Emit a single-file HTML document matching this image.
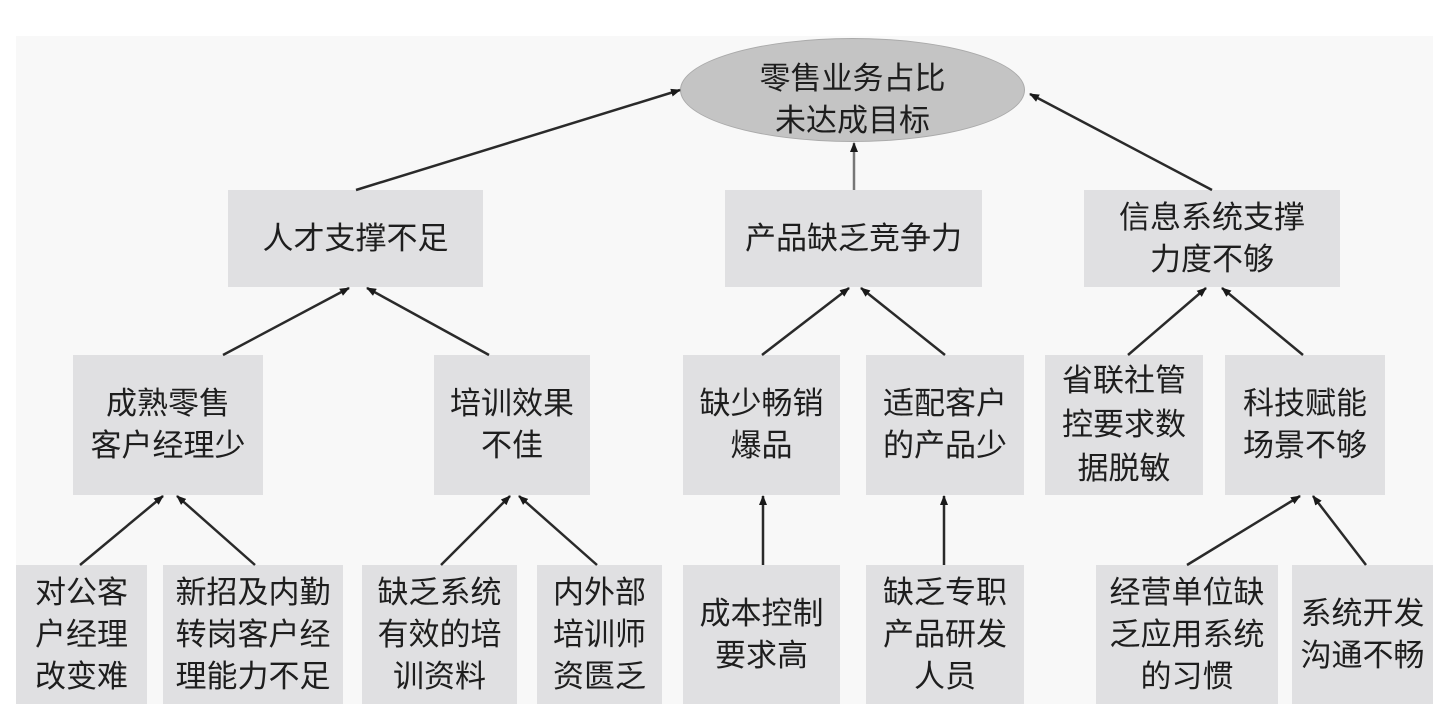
<!DOCTYPE html>
<html><head><meta charset="utf-8"><style>
html,body{margin:0;padding:0;background:#fff;}
body{width:1445px;height:726px;position:relative;overflow:hidden;font-family:"Liberation Sans","Noto Sans CJK SC",sans-serif;color:#1e1e1e;}
.panel{position:absolute;left:16px;top:36px;width:1417px;height:668px;background:#f8f8f8;}
.b{position:absolute;background:#e0e0e2;display:flex;align-items:center;justify-content:center;text-align:center;font-size:31px;line-height:42px;white-space:nowrap;}
.e{position:absolute;left:680px;top:38px;width:343px;height:102px;border-radius:50%;background:#c4c4c4;border:1px solid #aaa;display:flex;align-items:center;justify-content:center;text-align:center;font-size:31px;line-height:42px;}
.e span{position:relative;top:10px;}
svg{position:absolute;left:0;top:0;}
</style></head><body>
<div class="panel"></div>
<div class="e"><span>零售业务占比<br>未达成目标</span></div>
<div class="b" style="left:228px;top:190px;width:255px;height:97px;">人才支撑不足</div>
<div class="b" style="left:725px;top:190px;width:257px;height:97px;">产品缺乏竞争力</div>
<div class="b" style="left:1084px;top:190px;width:256px;height:97px;">信息系统支撑<br>力度不够</div>

<div class="b" style="left:73px;top:355px;width:190px;height:140px;">成熟零售<br>客户经理少</div>
<div class="b" style="left:434px;top:355px;width:156px;height:140px;">培训效果<br>不佳</div>
<div class="b" style="left:683px;top:355px;width:157px;height:140px;">缺少畅销<br>爆品</div>
<div class="b" style="left:866px;top:355px;width:158px;height:140px;">适配客户<br>的产品少</div>
<div class="b" style="left:1045px;top:355px;width:158px;height:140px;line-height:44px;">省联社管<br>控要求数<br>据脱敏</div>
<div class="b" style="left:1225px;top:355px;width:160px;height:140px;">科技赋能<br>场景不够</div>

<div class="b" style="left:16px;top:565px;width:131px;height:139px;">对公客<br>户经理<br>改变难</div>
<div class="b" style="left:163px;top:565px;width:180px;height:139px;">新招及内勤<br>转岗客户经<br>理能力不足</div>
<div class="b" style="left:362px;top:565px;width:155px;height:139px;">缺乏系统<br>有效的培<br>训资料</div>
<div class="b" style="left:537px;top:565px;width:125px;height:139px;">内外部<br>培训师<br>资匮乏</div>
<div class="b" style="left:683px;top:565px;width:157px;height:139px;">成本控制<br>要求高</div>
<div class="b" style="left:866px;top:565px;width:158px;height:139px;">缺乏专职<br>产品研发<br>人员</div>
<div class="b" style="left:1096px;top:565px;width:182px;height:139px;">经营单位缺<br>乏应用系统<br>的习惯</div>
<div class="b" style="left:1292px;top:565px;width:141px;height:139px;">系统开发<br>沟通不畅</div>

<svg width="1445" height="726">
<defs><marker id="a" markerWidth="10" markerHeight="8" refX="9" refY="4" orient="auto" markerUnits="userSpaceOnUse"><path d="M0,0 L10,4 L0,8 z" fill="#1a1a1a"/></marker></defs>
<g stroke="#2a2a2a" stroke-width="2.5" fill="none" marker-end="url(#a)">
<line x1="356" y1="190" x2="680" y2="90"/>
<line x1="854" y1="190" x2="854" y2="143" stroke="#777"/>
<line x1="1212" y1="190" x2="1030" y2="94"/>
<line x1="223" y1="355" x2="349" y2="288"/>
<line x1="489" y1="355" x2="367" y2="288"/>
<line x1="762" y1="355" x2="849" y2="288"/>
<line x1="945" y1="355" x2="861" y2="288"/>
<line x1="1128" y1="355" x2="1206" y2="288"/>
<line x1="1303" y1="355" x2="1222" y2="288"/>
<line x1="80" y1="565" x2="163" y2="496"/>
<line x1="255" y1="565" x2="177" y2="496"/>
<line x1="441" y1="565" x2="510" y2="496"/>
<line x1="597" y1="565" x2="519" y2="496"/>
<line x1="763" y1="565" x2="763" y2="496"/>
<line x1="944" y1="565" x2="944" y2="496"/>
<line x1="1187" y1="565" x2="1300" y2="496"/>
<line x1="1366" y1="565" x2="1313" y2="496"/>
</g>
</svg>
</body></html>
